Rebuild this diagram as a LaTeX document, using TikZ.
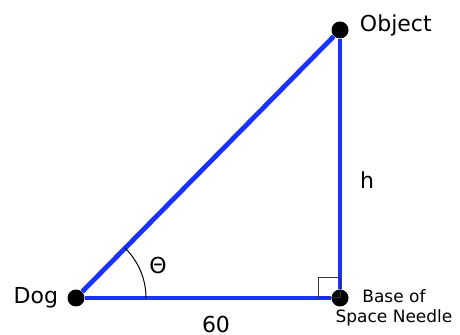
\documentclass[tikz,border=0pt]{standalone}
\usepackage{fontspec}
\setmainfont{DejaVu Sans}
\usetikzlibrary{positioning, angles}
\definecolor{sideblue}{RGB}{25,50,255}

\begin{document}
\begin{tikzpicture}[
x=0.5pt, y=-0.5pt,
node distance=1pt,
dot/.style={circle, fill=black, inner sep=0pt, minimum size=8.5pt},
side/.style={draw=sideblue, line width=2.4pt},
lbl/.style={font=\fontsize{11}{13}\selectfont},
small/.style={font=\fontsize{8.5}{10}\selectfont, align=center}
]
\useasboundingbox (0,0) rectangle (460,335);

\node[dot] (dog) at (76,298) {};
\node[dot] (base) at (340,298) {};
\node[dot] (obj) at (340,30) {};

% sides of the triangle
\draw[side] (dog) -- (base);
\draw[side] (base) -- (obj);
\draw[side] (dog) -- (obj);

% right angle and angle mark
\draw[black!80, line width=0.5pt] (base.center) rectangle ++(-22,-20);
\pic[draw, line width=0.5pt, angle radius=35pt] {angle=base--dog--obj};

\node[lbl, left=of dog] (doglbl) {Dog};
\node[lbl, right=2pt of obj, yshift=2.5pt] (objlbl) {Object};
\node[small] (baselbl) at (394,308) {Base of\\Space Needle};
\node[lbl] (hlbl) at (367,180) {h};
\node[lbl] (thlbl) at (158,265) {Θ};
\node[lbl, inner sep=1pt] (dist) at (216,324) {60};

\end{tikzpicture}
\end{document}
